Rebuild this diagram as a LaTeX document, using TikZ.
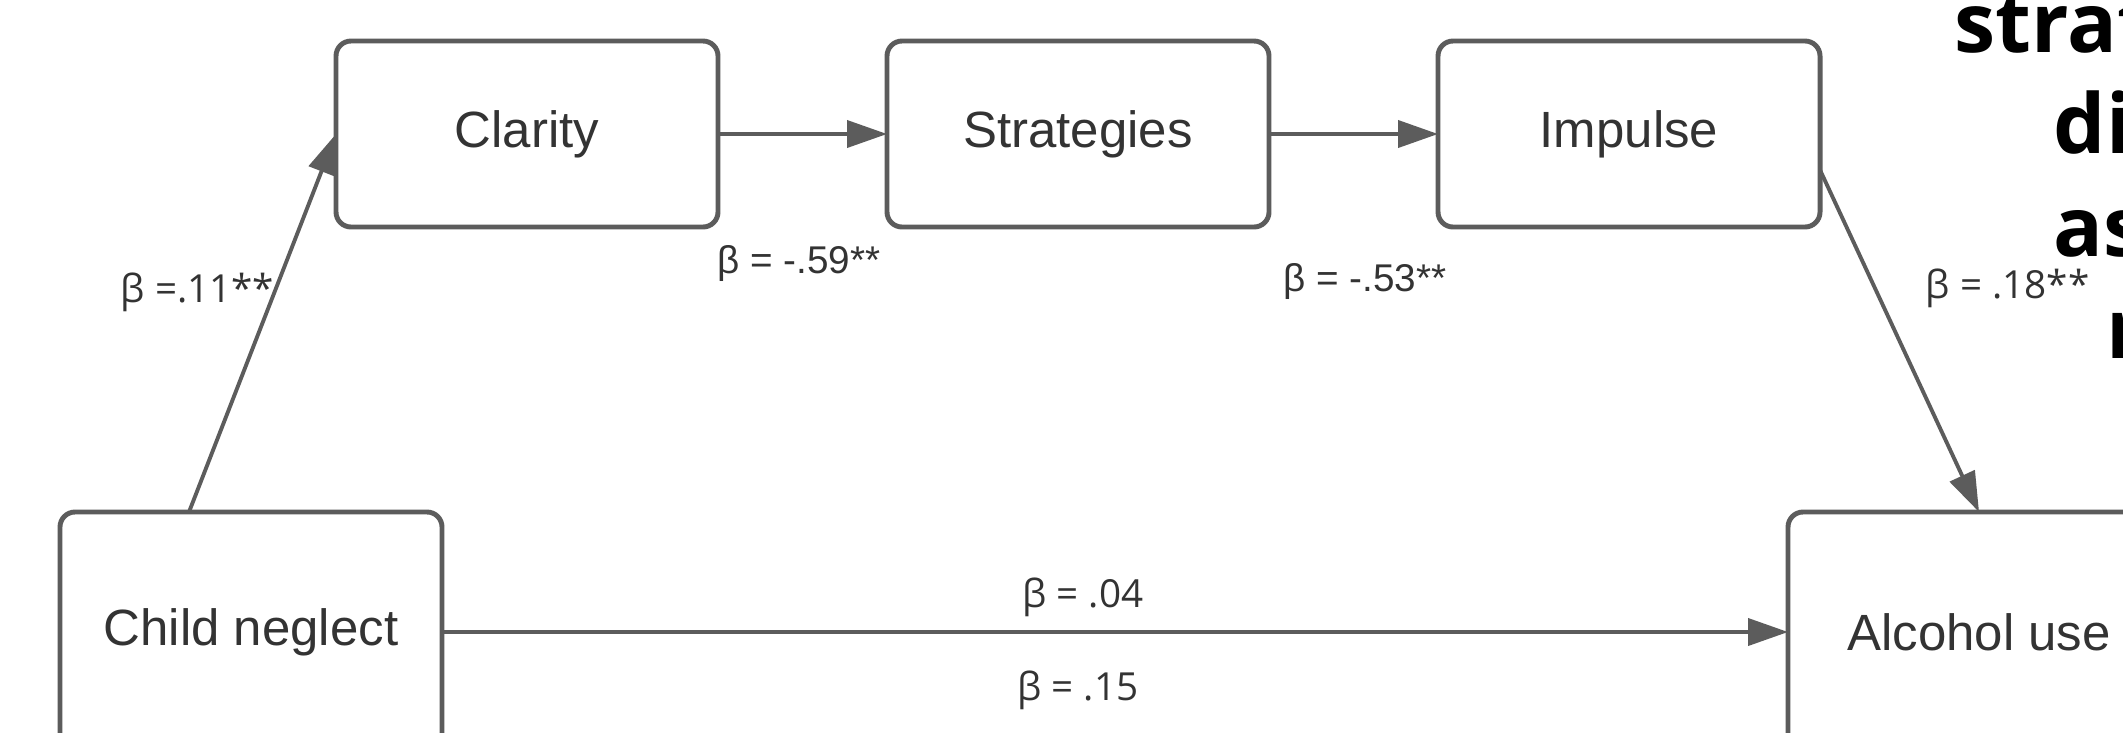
\documentclass[tikz,border=0pt]{standalone}
\usepackage{fontspec}
\setmainfont{Liberation Sans}
\newfontfamily\coeffont{Open Sans}
\newfontfamily\titlefont{Open Sans}
\usetikzlibrary{positioning,arrows.meta}

\definecolor{linegray}{HTML}{5C5C5C}
\definecolor{textgray}{HTML}{333333}

\tikzset{
  varbox/.style={draw=linegray,line width=1.4pt,rounded corners=1.5mm,outer sep=0pt,
    minimum width=3.82cm,minimum height=1.86cm,text=textgray,
    font=\fontsize{14.5}{17}\selectfont},
  arr/.style={draw=linegray,line width=1.1pt,-{Triangle[length=4mm,width=2.7mm]}},
  coef/.style={text=textgray,inner sep=0pt,anchor=base,font=\coeffont\fontsize{11}{13}\selectfont},
  bigword/.style={inner sep=0pt,anchor=base west,font=\titlefont\bfseries\fontsize{23.5}{28}\selectfont}
}

\begin{document}
\begin{tikzpicture}
    \useasboundingbox (0,0) rectangle (21.23,7.32);
    \fill[white] (0,0) rectangle (21.23,7.32);
    \clip (0,0) rectangle (21.23,7.32);
    % mediators
    \node[varbox] (clarity) at (5.27,5.98) {Clarity};
    \node[varbox,right=1.69cm of clarity] (strategies) {Strategies};
    \node[varbox,right=1.69cm of strategies] (impulse) {Impulse};
    % predictor and outcome
    \node[varbox,minimum height=2.4cm] (neglect) at (2.51,1.00) {Child neglect};
    \node[varbox,minimum height=2.4cm] (alcohol) at (19.79,1.00) {Alcohol use};
    % paths
    \draw[arr] ([xshift=-0.62cm]neglect.north) -- (clarity.west);
    \draw[arr] (clarity) -- (strategies);
    \draw[arr] (strategies) -- (impulse);
    \draw[arr] ([yshift=-0.36cm]impulse.east) -- (alcohol.north);
    \draw[arr] (neglect) -- (alcohol);
    % coefficients
    \node[coef] (b1) at (1.975,4.30) {β =.11**};
    \node[coef,font=\fontsize{11}{13}\selectfont] (b2) at (7.99,4.59) {β = -.59**};
    \node[coef,font=\fontsize{11}{13}\selectfont] (b3) at (13.65,4.41) {β = -.53**};
    \node[coef,anchor=base west] (b4) at (19.25,4.34) {β = .18**};
    \node[coef] (b5) at (10.83,1.25) {β = .04};
    \node[coef] (b6) at (10.78,0.32) {β = .15};
    % cut-off words at the right edge
    \node[bigword] (w1) at (19.54,6.80) {strat};
    \node[bigword] (w2) at (20.53,5.79) {di};
    \node[bigword] (w3) at (20.53,4.76) {as};
    \node[bigword] (w4) at (21.06,3.74) {r};
\end{tikzpicture}
\end{document}
